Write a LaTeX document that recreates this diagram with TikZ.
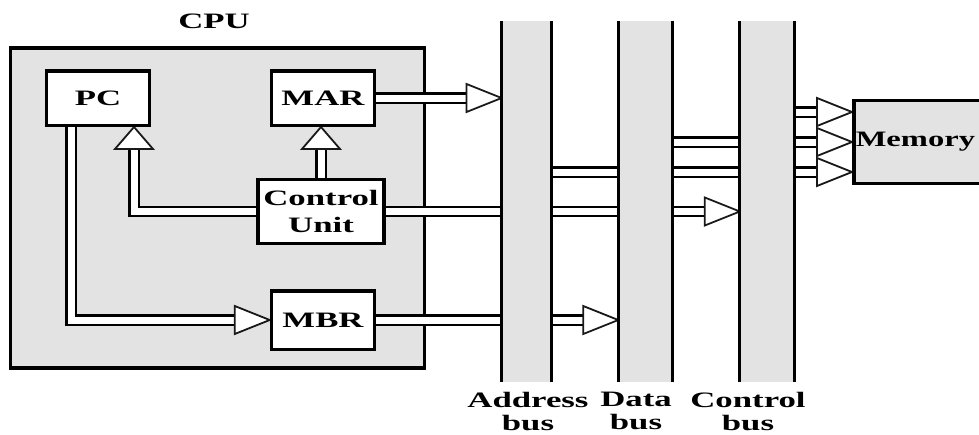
\documentclass[tikz,border=0pt]{standalone}
\usepackage{graphicx}
\usepackage{fontspec}
\setmainfont{Liberation Serif}
\usetikzlibrary{calc}
\newcommand{\widetxt}[1]{\scalebox{1.58}[1]{#1}}
\pgfdeclarelayer{back}
\pgfdeclarelayer{mid}
\pgfsetlayers{back,mid,main}

\begin{document}
\begin{tikzpicture}[x=1pt, y=-1pt,
  box/.style={draw, line width=3.5pt, fill=white, inner sep=0pt, align=center, font=\fontsize{22}{27}\selectfont\bfseries},
  shadebox/.style={draw, line width=3.5pt, fill=black!11, inner sep=0pt},
  bus/.style={fill=black!11, inner sep=0pt, minimum height=361pt},
  busline/.style={line width=3pt},
  shaft/.style={draw=black, line width=2.3pt, double=white, double distance=7pt},
  head/.style={draw=black!90, fill=white, line width=1.8pt},
  lbl/.style={inner sep=0pt, align=center, font=\fontsize{22}{23}\selectfont\bfseries}]
  \useasboundingbox (0,0) rectangle (979,434);

  \begin{pgfonlayer}{back}
    \node[shadebox, minimum width=414pt, minimum height=320pt] (cpu) at (217.5,208) {};
  \end{pgfonlayer}
  \node[lbl] (cpulbl) at (214,21) {\widetxt{CPU}};

  \node[box, minimum width=103pt, minimum height=54.5pt] (pc) at (98,98) {\widetxt{PC}};
  \node[box, minimum width=103pt, minimum height=54.5pt] (mar) at (323,98) {\widetxt{MAR}};
  \node[box, minimum width=126pt, minimum height=64pt] (cu) at (321,211.5) {\widetxt{Control}\\\widetxt{Unit}};
  \node[box, minimum width=103pt, minimum height=58.5pt] (mbr) at (323,320) {\widetxt{MBR}};

  \node[bus, minimum width=49.5pt] (abus) at (526.5,201.5) {};
  \node[bus, minimum width=54pt] (dbus) at (645.5,201.5) {};
  \node[bus, minimum width=54pt] (cbus) at (767,201.5) {};
  \foreach \b in {abus,dbus,cbus}
    \draw[busline] (\b.north west) -- (\b.south west) (\b.north east) -- (\b.south east);

  \node[lbl] (alb) at (528,411) {\widetxt{Address}\\\widetxt{bus}};
  \node[lbl] (dlb) at (636,411) {\widetxt{Data}\\\widetxt{bus}};
  \node[lbl] (clb) at (748,411) {\widetxt{Control}\\\widetxt{bus}};

  \node[shadebox, anchor=west, minimum height=83pt, text width=140pt, align=left, inner xsep=2pt,
    font=\fontsize{22}{27}\selectfont\bfseries] (mem) at (852,142) {\scalebox{1.48}[1]{Memory}};

  \begin{pgfonlayer}{mid}
    \draw[shaft, shorten >=34pt] (mar.east) -- (mar.east -| abus.west);
    \draw[head] (mar.east -| abus.west) -- ++(-35,-14) -- ++(0,28) -- cycle;

    \draw[shaft, shorten >=21pt] (cu.north) -- (cu.north |- mar.south);
    \draw[head] (cu.north |- mar.south) -- ++(-19,22) -- ++(38,0) -- cycle;

    \draw[shaft, shorten >=21pt] (cu.west) -| ($(pc.south)+(36,0)$);
    \draw[head] ($(pc.south)+(36,0)$) -- ++(-19,22) -- ++(38,0) -- cycle;

    \draw[shaft, shorten >=34pt] ($(pc.south)+(-27,0)$) |- (mbr.west);
    \draw[head] (mbr.west) -- ++(-35,-14) -- ++(0,28) -- cycle;

    \draw[shaft, shorten >=34pt] (cu.east) -- (cu.east -| cbus.west);
    \draw[head] (cu.east -| cbus.west) -- ++(-35,-14) -- ++(0,28) -- cycle;

    \draw[shaft, shorten >=34pt] (mbr.east) -- (mbr.east -| dbus.west);
    \draw[head] (mbr.east -| dbus.west) -- ++(-35,-14) -- ++(0,28) -- cycle;

    % buses to memory
    \foreach \src/\dy in {cbus/-30,dbus/0,abus/30} {
      \coordinate (tip) at ($(mem.west)+(0,\dy)$);
      \draw[shaft, shorten >=34pt] (tip -| \src.east) -- (tip);
      \draw[head] (tip) -- ++(-35,-14) -- ++(0,28) -- cycle;
    }
  \end{pgfonlayer}
\end{tikzpicture}
\end{document}
